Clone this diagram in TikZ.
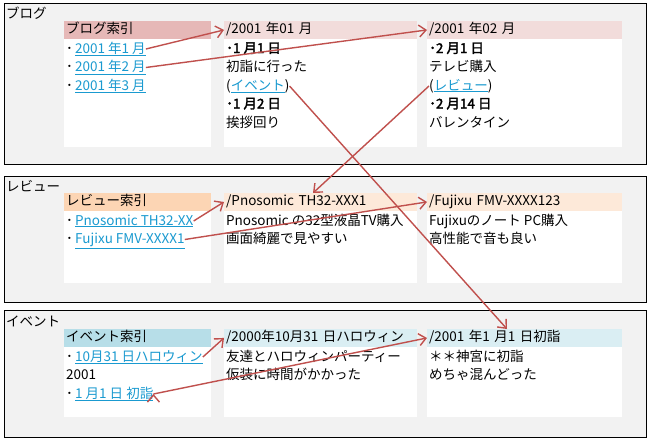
\documentclass[tikz,border=0pt]{standalone}
\usepackage{fontspec}
\setmainfont{Noto Sans CJK JP}[AutoFakeBold=2]
\usepackage{tikz}
\usetikzlibrary{arrows.meta,calc}

\definecolor{panelbg}{HTML}{F2F2F2}
\definecolor{pinkD}{HTML}{E6B8B7}
\definecolor{pinkL}{HTML}{F2DCDB}
\definecolor{orangeD}{HTML}{FCD5B4}
\definecolor{orangeL}{HTML}{FDE9D9}
\definecolor{blueD}{HTML}{B7DEE8}
\definecolor{blueL}{HTML}{DAEEF3}
\definecolor{linkc}{HTML}{1A9AD0}
\definecolor{arrowc}{HTML}{C0504D}

\newcommand{\weblnk}[1]{\textcolor{linkc}{\underline{#1}}}

\tikzset{
  panel/.style={draw=black,fill=panelbg,line width=0.8pt,anchor=north west,inner sep=0pt},
  card/.style={fill=white,anchor=north west,inner sep=0pt,minimum width=#1},
  hdr/.style={anchor=north west,inner xsep=2pt,inner ysep=0pt,minimum height=17.5pt,
              text width=#1,align=left,text height=11pt,text depth=3pt},
  ln/.style={anchor=west,inner sep=0pt,text height=11pt,text depth=3pt},
  lbl/.style={anchor=west,inner sep=0pt},
  jump/.style={draw=arrowc,line width=1.4pt,->},
}

\begin{document}
\begin{tikzpicture}[x=1pt,y=-1pt,>={Straight Barb[length=7pt,width=12pt]},
    font=\fontsize{13.5}{16}\selectfont]
  \useasboundingbox (0,0) rectangle (651,442);

  % panels
  \node[panel,minimum width=642pt,minimum height=161pt] (pblog) at (4,3)   {};
  \node[panel,minimum width=642pt,minimum height=126pt] (prev)  at (4,176) {};
  \node[panel,minimum width=642pt,minimum height=127pt] (pevt)  at (4,310) {};
  \node[lbl] (lblog) at (6,13)  {ブログ};
  \node[lbl] (lrev)  at (6,186) {レビュー};
  \node[lbl] (levt)  at (6,321) {イベント};

  % blog cards
  \node[card=147pt,minimum height=126pt] (bc0) at (64,21)  {};
  \node[card=193pt,minimum height=126pt] (bc1) at (224,21) {};
  \node[card=195pt,minimum height=126pt] (bc2) at (427,21) {};
  \node[hdr=143pt,fill=pinkD] (bhd0) at (64,21)  {ブログ索引};
  \node[hdr=189pt,fill=pinkL] (bhd1) at (224,21) {/2001 年01 月};
  \node[hdr=191pt,fill=pinkL] (bhd2) at (427,21) {/2001 年02 月};

  \node[ln] (bl1) at (66,49)   {･\,\weblnk{2001 年1 月}};
  \node[ln] (bl2) at (66,67.5) {･\,\weblnk{2001 年2 月}};
  \node[ln] (bl3) at (66,86)   {･\,\weblnk{2001 年3 月}};

  \node[ln] (ja1) at (226,49)    {\textbf{･1 月1 日}};
  \node[ln] (ja2) at (226,67.5)  {初詣に行った};
  \node[ln] (ja3) at (226,86)    {(\weblnk{イベント})};
  \node[ln] (ja4) at (226,104.5) {\textbf{･1 月2 日}};
  \node[ln] (ja5) at (226,123)   {挨拶回り};

  \node[ln] (fe1) at (429,49)    {\textbf{･2 月1 日}};
  \node[ln] (fe2) at (429,67.5)  {テレビ購入};
  \node[ln] (fe3) at (429,86)    {(\weblnk{レビュー})};
  \node[ln] (fe4) at (429,104.5) {\textbf{･2 月14 日}};
  \node[ln] (fe5) at (429,123)   {バレンタイン};

  % review cards
  \node[card=147pt,minimum height=90pt] (rc0) at (64,193)  {};
  \node[card=193pt,minimum height=90pt] (rc1) at (224,193) {};
  \node[card=195pt,minimum height=90pt] (rc2) at (427,193) {};
  \node[hdr=143pt,fill=orangeD] (rhd0) at (64,193)  {レビュー索引};
  \node[hdr=189pt,fill=orangeL] (rhd1) at (224,193) {/Pnosomic TH32-XXX1};
  \node[hdr=191pt,fill=orangeL] (rhd2) at (427,193) {/Fujixu FMV-XXXX123};

  \node[ln] (rl1) at (66,221)   {･\,\weblnk{Pnosomic TH32-XX}};
  \node[ln] (rl2) at (66,239.5) {･\,\weblnk{Fujixu FMV-XXXX1}};

  \node[ln] (pn1) at (226,221)   {Pnosomic の32型液晶TV購入};
  \node[ln] (pn2) at (226,239.5) {画面綺麗で見やすい};

  \node[ln] (fj1) at (429,221)   {Fujixuのノート PC購入};
  \node[ln] (fj2) at (429,239.5) {高性能で音も良い};

  % event cards
  \node[card=147pt,minimum height=88pt] (ec0) at (64,329)  {};
  \node[card=193pt,minimum height=88pt] (ec1) at (224,329) {};
  \node[card=195pt,minimum height=88pt] (ec2) at (427,329) {};
  \node[hdr=143pt,fill=blueD] (ehd0) at (64,329)  {イベント索引};
  \node[hdr=189pt,fill=blueL] (ehd1) at (224,329) {/2000年10月31 日ハロウィン};
  \node[hdr=191pt,fill=blueL] (ehd2) at (427,329) {/2001 年1 月1 日初詣};

  \node[ln] (el1) at (66,357)   {･\,\weblnk{10月31 日ハロウィン}};
  \node[ln] (el2) at (66,375.5) {2001};
  \node[ln] (el3) at (66,394)   {･\,\weblnk{1 月1 日 初詣}};

  \node[ln] (hw1) at (226,357)   {友達とハロウィンパーティー};
  \node[ln] (hw2) at (226,375.5) {仮装に時間がかかった};

  \node[ln] (hs1) at (429,357)   {＊＊神宮に初詣};
  \node[ln] (hs2) at (429,375.5) {めちゃ混んどった};

  % links
  \path[jump] (bl1.east) edge (bhd1.west)
              (bl2.east) edge (bhd2.west)
              (ja3.east) edge ($(ehd2.north west)+(80,0)$)
              (fe3.west) edge ($(rhd1.north west)+(89,0)$)
              (rl1.east) edge (rhd1.west)
              (rl2.east) edge (rhd2.west)
              (el1.east) edge (ehd1.west)
              (el3.east) edge (ehd2.west);
\end{tikzpicture}
\end{document}
